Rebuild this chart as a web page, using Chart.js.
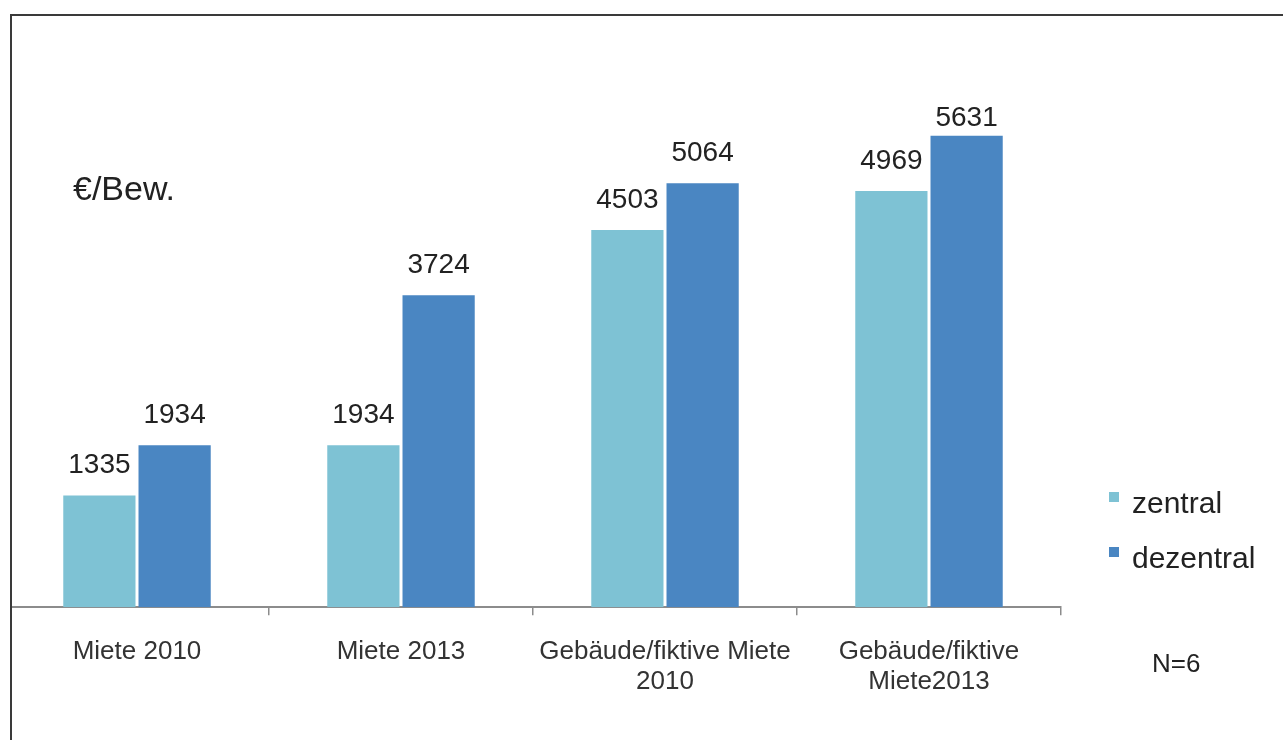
<!DOCTYPE html>
<html>
<head>
<meta charset="utf-8">
<script src="https://cdn.jsdelivr.net/npm/chart.js@4"></script>
<style>
  html, body { margin: 0; padding: 0; background: #fff; }
  #wrap { position: relative; width: 1283px; height: 740px; }
</style>
</head>
<body>
<div id="wrap"><canvas id="chartKosten"></canvas></div>
<script>
const kategorien = [
  'Miete 2010',
  'Miete 2013',
  ['Gebäude/fiktive Miete', '2010'],
  ['Gebäude/fiktive', 'Miete2013']
];
const zentral = [1335, 1934, 4503, 4969];
const dezentral = [1934, 3724, 5064, 5631];
const farbeZentral = '#7ec2d4';
const farbeDezentral = '#4a86c2';
const schrift = "'Liberation Sans', Arial, sans-serif";

// Werte ueber den Balken
const wertLabels = {
  id: 'wertLabels',
  afterDatasetsDraw(chart) {
    const ctx = chart.ctx;
    ctx.save();
    ctx.font = '28px ' + schrift;
    ctx.fillStyle = '#222';
    ctx.textAlign = 'center';
    ctx.textBaseline = 'middle';
    chart.data.datasets.forEach((ds, i) => {
      chart.getDatasetMeta(i).data.forEach((bar, j) => {
        const y = Math.max(bar.y - 30, chart.chartArea.top + 97);
        ctx.fillText(String(ds.data[j]), bar.x, y);
      });
    });
    ctx.restore();
  }
};

// Rahmen, Einheit, Legende und N
const extras = {
  id: 'extras',
  afterDraw(chart) {
    const ctx = chart.ctx;
    ctx.save();
    ctx.fillStyle = '#fff';
    ctx.fillRect(0, 0, 10, chart.height);
    ctx.fillStyle = '#3a3a3a';
    ctx.fillRect(10, 14, chart.width - 10, 2);
    ctx.fillRect(10, 14, 2, chart.height - 14);

    ctx.fillStyle = '#222';
    ctx.textBaseline = 'alphabetic';
    ctx.font = '34px ' + schrift;
    ctx.fillText('€/Bew.', 73, 200);

    chart.data.datasets.forEach((ds, i) => {
      const y = 492 + i * 55;
      ctx.fillStyle = ds.backgroundColor;
      ctx.fillRect(1109, y, 10, 10);
      ctx.fillStyle = '#222';
      ctx.font = '30px ' + schrift;
      ctx.fillText(ds.label, 1132, y + 21);
    });

    ctx.font = '26px ' + schrift;
    ctx.fillText('N=6', 1152, 672);
    ctx.restore();
  }
};

new Chart(document.getElementById('chartKosten'), {
  type: 'bar',
  data: {
    labels: kategorien,
    datasets: [
      { label: 'zentral', data: zentral, backgroundColor: farbeZentral },
      { label: 'dezentral', data: dezentral, backgroundColor: farbeDezentral }
    ]
  },
  options: {
    responsive: true,
    maintainAspectRatio: false,
    animation: false,
    categoryPercentage: 0.57,
    barPercentage: 0.96,
    layout: { padding: { left: 5, right: 222, top: 21, bottom: 21 } },
    plugins: {
      legend: { display: false },
      tooltip: { enabled: false }
    },
    scales: {
      x: {
        grid: {
          display: true,
          drawOnChartArea: false,
          drawTicks: true,
          tickLength: 8,
          color: '#8c8c8c',
          lineWidth: 1.5
        },
        border: { display: true, color: '#8c8c8c', width: 2 },
        ticks: {
          color: '#333',
          padding: 22,
          maxRotation: 0,
          font: { family: schrift, size: 26, lineHeight: 1.15 }
        }
      },
      y: {
        display: false,
        min: 0,
        max: 7000
      }
    }
  },
  plugins: [wertLabels, extras]
});
</script>
</body>
</html>
